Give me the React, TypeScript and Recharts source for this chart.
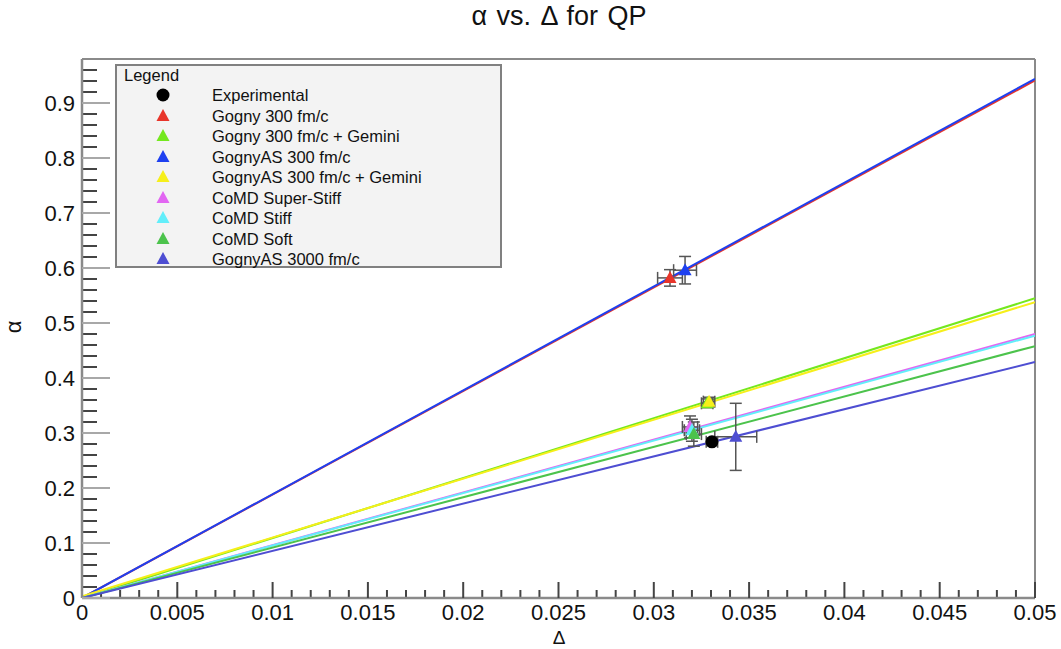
import React from "react";
import {
  ComposedChart,
  Line,
  Scatter,
  ErrorBar,
  XAxis,
  YAxis,
  ReferenceLine,
  Legend,
} from "recharts";

const FONT = '"Liberation Sans", Arial, Helvetica, sans-serif';

// legend order: experimental point first, then the model samples
const seriesNames = [
  "Experimental",
  "Gogny 300 fm/c",
  "Gogny 300 fm/c + Gemini",
  "GognyAS 300 fm/c",
  "GognyAS 300 fm/c + Gemini",
  "CoMD Super-Stiff",
  "CoMD Stiff",
  "CoMD Soft",
  "GognyAS 3000 fm/c",
];
const seriesColors = [
  "#000000",
  "#e8352a",
  "#74e81e",
  "#1e40f0",
  "#f6ef1a",
  "#e266f2",
  "#62eefa",
  "#4cc34c",
  "#4e4ed2",
];

// measured point and its errors (one per series)
const pointDelta = [0.03305, 0.03085, 0.0328, 0.03164, 0.0329, 0.0319, 0.032, 0.0321, 0.0343];
const pointAlpha = [0.284, 0.582, 0.354, 0.596, 0.357, 0.311, 0.305, 0.298, 0.293];
const pointDeltaErr = [0.0003, 0.00065, 0.0003, 0.0006, 0.0003, 0.0004, 0.0004, 0.0004, 0.0011];
const pointAlphaErr = [0.006, 0.015, 0.008, 0.025, 0.008, 0.02, 0.02, 0.022, 0.061];

// straight fits alpha(delta), read at delta = 0 and delta = 0.05 (no fit for experimental)
const fitAlphaStart = [null, 0, 0, 0, 0.003, 0, 0, 0, 0];
const fitAlphaEnd = [null, 0.941, 0.545, 0.944, 0.538, 0.48, 0.477, 0.458, 0.429];

const xLabels = ["0", "0.005", "0.01", "0.015", "0.02", "0.025", "0.03", "0.035", "0.04", "0.045", "0.05"];
const yLabels = ["0", "0.1", "0.2", "0.3", "0.4", "0.5", "0.6", "0.7", "0.8", "0.9"];

const xMajor = xLabels.map(Number);
const yMajor = yLabels.map(Number);
// minor divisions: 0.001 on x, 0.02 on y
const xMinor = Array.from({ length: 51 }, (_, i) => i).filter((i) => i % 5 !== 0).map((i) => +(i * 0.001).toFixed(3));
const yMinor = Array.from({ length: 49 }, (_, i) => i).filter((i) => i % 5 !== 0).map((i) => +(i * 0.02).toFixed(2));

const FRAME = "#8a8a8a";
const MINOR = "#444444";
const tickFont = { fontSize: 22, fill: "#111", fontFamily: FONT };

// short inward minor ticks drawn from the frame edge
const xMinorShape = (p: any) => {
  const yb = Math.max(Number(p.y1), Number(p.y2));
  return <line x1={p.x1} x2={p.x1} y1={yb - 1} y2={yb - 8} stroke={MINOR} strokeWidth={2} />;
};
const yMinorShape = (p: any) => {
  const xl = Math.min(Number(p.x1), Number(p.x2));
  return <line x1={xl + 1} x2={xl + 15} y1={p.y1} y2={p.y1} stroke={MINOR} strokeWidth={2} />;
};

function Marker({ cx, cy, color, index }: { cx: number; cy: number; color: string; index: number }) {
  if (index === 0) return <circle cx={cx} cy={cy} r={6.5} fill={color} />;
  return <polygon points={`${cx},${cy - 7} ${cx - 6.5},${cy + 5} ${cx + 6.5},${cy + 5}`} fill={color} />;
}

function LegendBox() {
  return (
    <div
      style={{
        width: 387,
        height: 204,
        boxSizing: "border-box",
        background: "#f3f3f3",
        border: "2px solid #808080",
        fontFamily: FONT,
        position: "relative",
        color: "#111",
      }}
    >
      <div style={{ position: "absolute", left: 7, top: 0, fontSize: 16.5, lineHeight: "19px" }}>Legend</div>
      {seriesNames.map((name, i) => (
        <div
          key={name}
          style={{ position: "absolute", left: 0, top: 29 + i * 20.5 - 10, height: 20, display: "flex", alignItems: "center" }}
        >
          <svg width={95} height={20} style={{ display: "block" }}>
            <Marker cx={46} cy={10} color={seriesColors[i]} index={i} />
          </svg>
          <span style={{ fontSize: 16.5, lineHeight: "20px", whiteSpace: "nowrap" }}>{name}</span>
        </div>
      ))}
    </div>
  );
}

export default function App() {
  const fits = seriesNames.map((name, i) =>
    fitAlphaEnd[i] === null
      ? null
      : { name, color: seriesColors[i], data: [{ x: 0, y: fitAlphaStart[i] }, { x: 0.05, y: fitAlphaEnd[i] }] }
  );
  const points = seriesNames.map((name, i) => ({
    name,
    color: seriesColors[i],
    index: i,
    data: [{ x: pointDelta[i], y: pointAlpha[i], ex: pointDeltaErr[i], ey: pointAlphaErr[i] }],
  }));
  // experimental drawn last so it sits on top
  const drawOrder = [...points.slice(1), points[0]];

  return (
    <div style={{ position: "absolute", left: 0, top: 0, width: 1061, height: 649, background: "#fff" }}>
      <div
        style={{
          position: "absolute",
          left: 409,
          width: 300,
          top: 3,
          textAlign: "center",
          fontFamily: FONT,
          fontSize: 27,
          lineHeight: "27px",
          wordSpacing: 2,
          color: "#111",
        }}
      >
        α vs. Δ for QP
      </div>
      <div
        style={{
          position: "absolute",
          left: 14,
          top: 327,
          transform: "translate(-50%, -50%) rotate(-90deg)",
          fontFamily: FONT,
          fontSize: 22,
          lineHeight: "22px",
          color: "#111",
        }}
      >
        α
      </div>
      <div
        style={{
          position: "absolute",
          left: 559,
          top: 637,
          transform: "translate(-50%, -50%)",
          fontFamily: FONT,
          fontSize: 19,
          lineHeight: "19px",
          color: "#111",
        }}
      >
        Δ
      </div>
      <ComposedChart width={1061} height={649} margin={{ top: 59, right: 26, bottom: 0, left: 0 }}>
        <XAxis
          type="number"
          dataKey="x"
          domain={[0, 0.05]}
          allowDataOverflow
          ticks={xMajor}
          interval={0}
          tickFormatter={(v: number) => xLabels[Math.round(v / 0.005)]}
          tick={tickFont}
          tickSize={-16}
          tickMargin={22}
          tickLine={{ stroke: MINOR, strokeWidth: 2 }}
          height={51}
          axisLine={{ stroke: FRAME, strokeWidth: 2.5 }}
        />
        <YAxis
          type="number"
          dataKey="y"
          domain={[0, 0.98]}
          allowDataOverflow
          ticks={yMajor}
          interval={0}
          tickFormatter={(v: number) => yLabels[Math.round(v / 0.1)]}
          tick={tickFont}
          tickSize={-28}
          tickMargin={35}
          tickLine={{ stroke: "#a8a8a8", strokeWidth: 2 }}
          width={82}
          axisLine={{ stroke: FRAME, strokeWidth: 2.5 }}
        />
        <ReferenceLine y={0.98} stroke={FRAME} strokeWidth={2} />
        <ReferenceLine x={0.05} stroke={FRAME} strokeWidth={2} />
        {xMinor.map((v) => (
          <ReferenceLine key={`xm-${v}`} x={v} ifOverflow="visible" shape={xMinorShape} />
        ))}
        {yMinor.map((v) => (
          <ReferenceLine key={`ym-${v}`} y={v} ifOverflow="visible" shape={yMinorShape} />
        ))}
        {fits.map((f) =>
          f ? (
            <Line
              key={`fit-${f.name}`}
              data={f.data}
              dataKey="y"
              type="linear"
              stroke={f.color}
              strokeWidth={2}
              dot={false}
              activeDot={false}
              isAnimationActive={false}
              legendType="none"
            />
          ) : null
        )}
        {drawOrder.map((p) => (
          <Scatter
            key={`pt-${p.name}`}
            name={p.name}
            data={p.data}
            fill={p.color}
            isAnimationActive={false}
            shape={(props: any) => <Marker cx={props.cx} cy={props.cy} color={p.color} index={p.index} />}
          >
            <ErrorBar dataKey="ex" direction="x" stroke="#555" strokeWidth={1.5} width={6} />
            <ErrorBar dataKey="ey" direction="y" stroke="#555" strokeWidth={1.5} width={6} />
          </Scatter>
        ))}
        <Legend
          layout="vertical"
          align="center"
          verticalAlign="middle"
          content={() => <LegendBox />}
          wrapperStyle={{ position: "absolute", left: 115, top: 64, width: 387, height: 204 }}
        />
      </ComposedChart>
    </div>
  );
}
